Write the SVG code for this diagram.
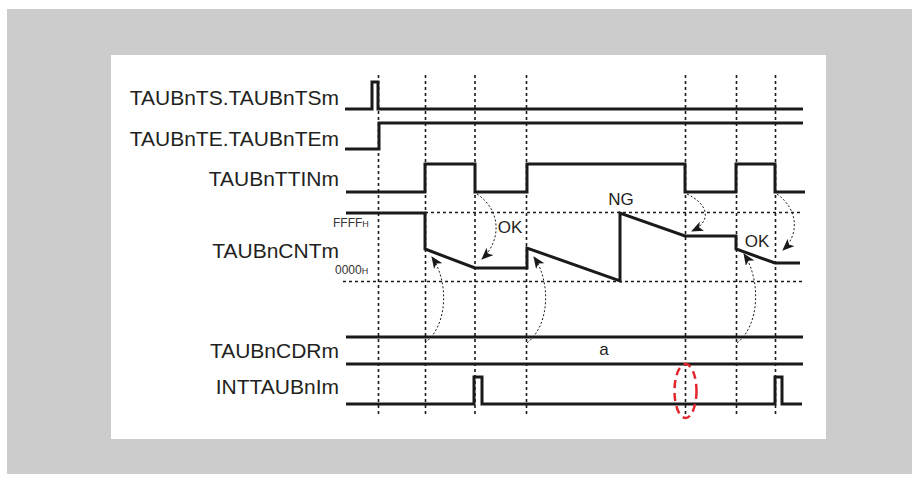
<svg xmlns="http://www.w3.org/2000/svg" width="919" height="483" viewBox="0 0 919 483">
<defs>
<marker id="ah" markerWidth="12" markerHeight="10" refX="11" refY="5" orient="auto" markerUnits="userSpaceOnUse">
<path d="M0,0 L12,5 L0,10 L3,5 Z" fill="#1a1a1a"/>
</marker>
<style>
.lbl{font-family:"Liberation Sans",Arial,sans-serif;font-size:21px;fill:#231f20;text-anchor:end}
.sm{font-family:"Liberation Sans",Arial,sans-serif;font-size:12px;fill:#333333}
.sub{font-size:9px}
.mid{font-family:"Liberation Sans",Arial,sans-serif;font-size:17px;fill:#231f20}
.sig{fill:none;stroke:#1a1a1a;stroke-width:3;stroke-linejoin:miter}
.grid{fill:none;stroke:#1a1a1a;stroke-width:1.6;stroke-dasharray:3,3}
.arr{fill:none;stroke:#1a1a1a;stroke-width:1;stroke-dasharray:2,2;marker-end:url(#ah)}
</style>
</defs>
<rect x="0" y="0" width="919" height="483" fill="#ffffff"/>
<rect x="7" y="9" width="905" height="465" fill="#cccccc"/>
<rect x="111" y="55" width="715" height="384" fill="#ffffff"/>

<g id="grid">
<line class="grid" x1="378.5" y1="75" x2="378.5" y2="414"/>
<line class="grid" x1="425.5" y1="75" x2="425.5" y2="414"/>
<line class="grid" x1="475" y1="75" x2="475" y2="414"/>
<line class="grid" x1="526.5" y1="75" x2="526.5" y2="414"/>
<line class="grid" x1="685.5" y1="75" x2="685.5" y2="414"/>
<line class="grid" x1="736.5" y1="75" x2="736.5" y2="414"/>
<line class="grid" x1="775.5" y1="75" x2="775.5" y2="414"/>
<line class="grid" x1="425" y1="212.5" x2="803" y2="212.5"/>
<line class="grid" x1="343" y1="281.5" x2="803" y2="281.5"/>
</g>

<g id="ts">
<text class="lbl" x="339" y="105">TAUBnTS.TAUBnTSm</text>
<polyline class="sig" points="345,109 372,109 372,82 378,82 378,109 803,109"/>
</g>
<g id="te">
<text class="lbl" x="339" y="146">TAUBnTE.TAUBnTEm</text>
<polyline class="sig" points="345,149 379,149 379,123 803,123"/>
</g>
<g id="ttin">
<text class="lbl" x="339" y="186">TAUBnTTINm</text>
<polyline class="sig" points="346,192 425,192 425,164 475,164 475,192 527,192 527,164 685,164 685,192 736,192 736,164 775,164 775,192 805,192"/>
</g>
<g id="cnt">
<text class="lbl" x="339" y="258">TAUBnCNTm</text>
<text class="sm" x="333" y="227">FFFF<tspan class="sub">H</tspan></text>
<text class="sm" x="335" y="274">0000<tspan class="sub">H</tspan></text>
<polyline class="sig" points="346,213 425,213 425,249 475,268 527,268 527,248 620,281 620,213 685,236 736,236 736,249 775,263 800,263"/>
<text class="mid" x="621" y="205" text-anchor="middle">NG</text>
<text class="mid" x="510" y="233" text-anchor="middle">OK</text>
<text class="mid" x="757" y="247" text-anchor="middle">OK</text>
</g>
<g id="cdr">
<text class="lbl" x="339" y="358">TAUBnCDRm</text>
<line class="sig" x1="346" y1="337" x2="803" y2="337"/>
<line class="sig" x1="346" y1="364" x2="803" y2="364"/>
<text class="mid" x="604" y="355" text-anchor="middle">a</text>
</g>
<g id="int">
<text class="lbl" x="339" y="394">INTTAUBnIm</text>
<polyline class="sig" points="346,404 474,404 474,377 482,377 482,404 775,404 775,377 782,377 782,404 802,404"/>
<ellipse cx="685.5" cy="391" rx="11" ry="27" fill="none" stroke="#e3262d" stroke-width="2.5" stroke-dasharray="8,5"/>
</g>

<g id="connectors">
<path class="arr" d="M425,343 C448,325 449,282 432,257"/>
<path class="arr" d="M527,343 C550,325 551,282 534,257"/>
<path class="arr" d="M737,343 C760,325 761,280 744,254"/>
<path class="arr" d="M477,194 C501,210 502,240 482,259"/>
<path class="arr" d="M687,194 C710,205 711,222 692,231"/>
<path class="arr" d="M777,194 C799,210 799,235 783,250"/>
</g>
</svg>
